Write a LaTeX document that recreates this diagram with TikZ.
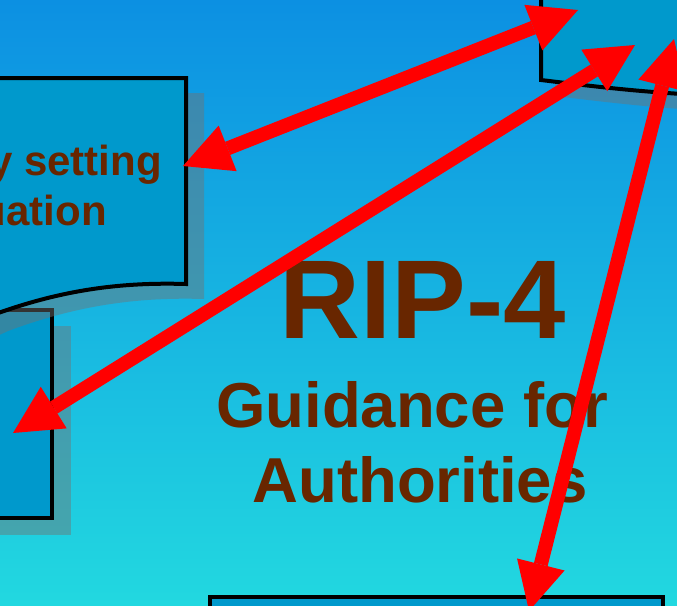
\documentclass[tikz,border=0pt]{standalone}
\usepackage{fontspec}
\setmainfont{Liberation Sans}
\usetikzlibrary{arrows.meta}

\definecolor{bgtop}{RGB}{12,144,226}
\definecolor{bgbottom}{RGB}{34,216,224}
\definecolor{boxfill}{RGB}{0,153,204}
\definecolor{titlebrown}{RGB}{104,38,0}
\definecolor{linkred}{RGB}{255,0,0}

\tikzset{
  docbox/.style={fill=boxfill, draw=black, line width=4pt, line join=miter},
  docshadow/.style={fill=black!55, fill opacity=0.45, draw=none},
  link/.style={draw=linkred, line width=14pt,
    {Triangle[length=48pt,width=49pt,line width=0pt]}-{Triangle[length=48pt,width=49pt,line width=0pt]}},
  label/.style={text=titlebrown, font=\bfseries, inner sep=0pt},
}

\begin{document}
\begin{tikzpicture}[x=1pt,y=-1pt]
  \useasboundingbox (0,0) rectangle (677,605);
  \clip (0,0) rectangle (677,605);

  % background gradient
  \shade[top color=bgtop, bottom color=bgbottom] (0,0) rectangle (677,605);

  % lower left box
  \path[docshadow] (-40,326) rectangle (71,535);
  \path[docbox] (-40,310) rectangle (52,518);

  % upper left document box
  \path[docshadow, shift={(18,15)}] (-40,78) -- (186,78) -- (186,284)
    .. controls (120,282) and (60,290) .. (-10,316) -- (-40,330) -- cycle;
  \path[docbox] (-40,78) -- (186,78) -- (186,284)
    .. controls (120,282) and (60,290) .. (-10,316) -- (-40,330) -- cycle;

  % upper right document box
  \path[docshadow, shift={(14,16)}] (541,-20) -- (541,80)
    .. controls (590,86) and (640,92) .. (700,95) -- (700,-20) -- cycle;
  \path[docbox] (541,-20) -- (541,80)
    .. controls (590,86) and (640,92) .. (700,95) -- (700,-20) -- cycle;

  % bottom box
  \path[docbox] (210,597) rectangle (663,660);

  % texts
  \node[label, anchor=base east, font=\bfseries\fontsize{42}{48}\selectfont] (lineA) at (162,175) {y setting};
  \node[label, anchor=base east, font=\bfseries\fontsize{42}{48}\selectfont] (lineB) at (107,225) {uation};

  \node[label, anchor=base, font=\bfseries\fontsize{112}{120}\selectfont] (title) at (422.5,338) {RIP-4};
  \node[label, anchor=base, font=\bfseries\fontsize{63.5}{70}\selectfont] (sub1) at (412,427) {Guidance for};
  \node[label, anchor=base, font=\bfseries\fontsize{63.5}{70}\selectfont] (sub2) at (420,502) {Authorities};

  % arrow end points
  \coordinate (leftTop) at (183,166);
  \coordinate (rightTopA) at (578,10);
  \coordinate (rightTopB) at (635,45);
  \coordinate (leftMid) at (13,433);
  \coordinate (rightTopC) at (674,39);
  \coordinate (bottomC) at (529,611);

  % double-headed links
  \draw[link] (leftTop) -- (rightTopA);
  \draw[link] (leftMid) -- (rightTopB);
  \draw[link] (bottomC) -- (rightTopC);
\end{tikzpicture}
\end{document}
